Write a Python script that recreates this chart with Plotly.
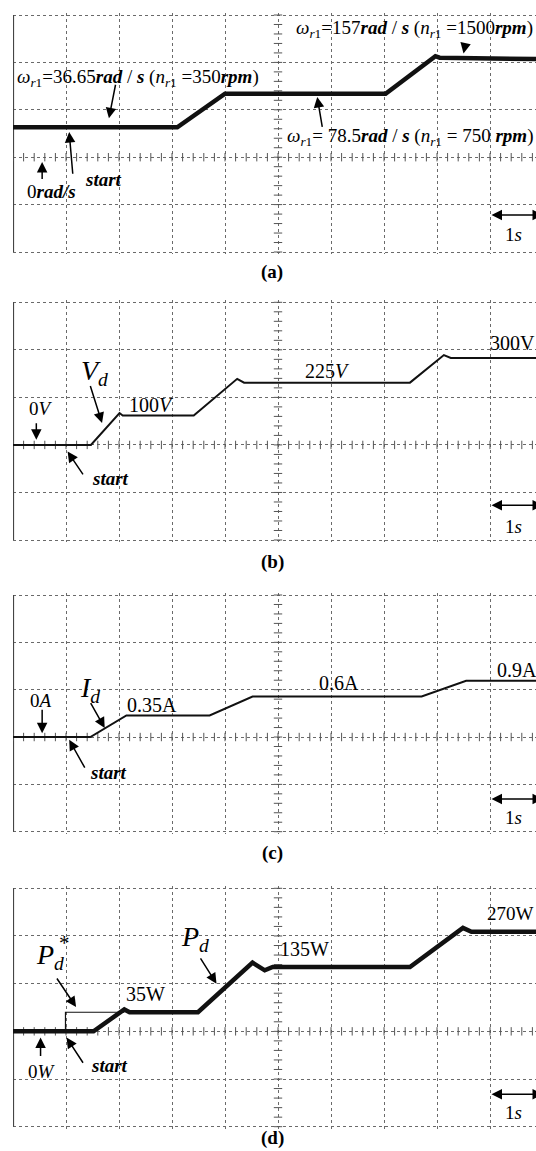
import numpy as np
import plotly.graph_objects as go

# ---------------- data (y in scope divisions, t in seconds) -------------
# (a) rotor speed omega_r1
speed_t = [0, 3.10, 4.00, 7.03, 7.97, 8.05, 9.87]
speed_div = [0.63, 0.63, 1.34, 1.34, 2.13, 2.10, 2.07]
# (b) DC voltage V_d
vd_t = [0, 1.47, 2.01, 2.07, 3.41, 4.23, 4.36, 7.49, 8.13, 8.26, 9.87]
vd_div = [0, 0, 0.67, 0.62, 0.62, 1.39, 1.31, 1.31, 1.89, 1.83, 1.83]
# (c) DC current I_d
id_t = [0, 1.46, 2.14, 3.71, 4.52, 7.71, 8.55, 9.87]
id_div = [0, 0, 0.455, 0.455, 0.856, 0.856, 1.19, 1.19]
# (d) power P_d and reference P_d*
pd_t = [0, 1.52, 2.10, 2.20, 3.49, 4.52, 4.75, 4.90, 7.49, 8.49, 8.65, 9.87]
pd_div = [0, 0, 0.46, 0.40, 0.40, 1.44, 1.28, 1.35, 1.35, 2.17, 2.09, 2.09]
pdref_t = [0, 0.99, 0.99, 2.10]
pdref_div = [0, 0, 0.40, 0.40]

time_ticks = list(range(0, 11))          # 1 s / div
div_ticks = [-2, -1, 0, 1, 2, 3]          # vertical divisions
captions = ["(a)", "(b)", "(c)", "(d)"]

# ---------------- layout geometry -----------------------------------------------------------
W, H = 536, 1151
ML = 13
PX_PER_S = 53.0
T_MAX = (W - ML) / PX_PER_S
panel_px = [(15, 252), (302.3, 540), (595, 831.7), (888.3, 1126.7)]
caption_py = [272, 562, 853, 1138]
PAD = 2.0  # px of padding so the edge grid lines are drawn
FONT = "Liberation Serif, Times New Roman, serif"
GRID = "#6a6a6a"

fig = go.Figure()
layout = dict(
    width=W, height=H, margin=dict(l=ML, r=0, t=0, b=0),
    paper_bgcolor="white", plot_bgcolor="white", showlegend=False,
    font=dict(family=FONT, size=19, color="black"),
)

for i, (top, bot) in enumerate(panel_px):
    n = "" if i == 0 else str(i + 1)
    px_per_div = (bot - top) / 5.0
    pad_div = PAD / px_per_div
    layout["xaxis" + n] = dict(
        domain=[0, 1], range=[0, T_MAX], anchor="y" + n,
        tickvals=time_ticks, showticklabels=False, ticks="",
        showgrid=True, gridcolor=GRID, gridwidth=1, griddash="dot",
        zeroline=False, showline=False, fixedrange=True,
    )
    layout["yaxis" + n] = dict(
        domain=[1 - (bot + PAD) / H, 1 - (top - PAD) / H],
        range=[-2 - pad_div, 3 + pad_div], anchor="x" + n,
        tickvals=div_ticks, showticklabels=False, ticks="",
        showgrid=True, gridcolor=GRID, gridwidth=1, griddash="dot",
        zeroline=False, showline=False, fixedrange=True,
    )
    xa, ya = "x" + n, "y" + n
    # solid left frame line (from bottom to top division)
    fig.add_trace(go.Scatter(x=[0, 0], y=[-2, 3], mode="lines", xaxis=xa, yaxis=ya,
                             line=dict(color="#444", width=2.2), hoverinfo="skip", cliponaxis=False))
    # centre-line minor tick marks
    tx = np.arange(0, T_MAX, 0.2)
    fig.add_trace(go.Scatter(
        x=tx, y=np.zeros(len(tx)), mode="markers", xaxis=xa, yaxis=ya, hoverinfo="skip",
        marker=dict(symbol="line-ns", size=6, line=dict(width=1, color="#555"))))
    yy = np.arange(-2, 3.001, 0.2)
    fig.add_trace(go.Scatter(
        x=np.full(len(yy), 5.0), y=yy, mode="markers", xaxis=xa, yaxis=ya, hoverinfo="skip",
        marker=dict(symbol="line-ew", size=6, line=dict(width=1, color="#555"))))

def line(t, v, ax, width):
    fig.add_trace(go.Scatter(x=t, y=v, mode="lines", xaxis="x" + ax, yaxis="y" + ax,
                             line=dict(color="#111", width=width), hoverinfo="skip"))

line(speed_t, speed_div, "", 4.5)
line(vd_t, vd_div, "2", 2)
line(id_t, id_div, "3", 2)
line(pdref_t, pdref_div, "4", 1.2)
line(pd_t, pd_div, "4", 4.5)

ann = []

def txt(ax, x, y, s, size=19, xanchor="center"):
    ann.append(dict(xref="x" + ax, yref="y" + ax, x=x, y=y, text=s, showarrow=False,
                    xanchor=xanchor, yanchor="middle", font=dict(size=size, family=FONT)))

def arrow(ax, x, y, tx, ty, side="end"):
    ann.append(dict(xref="x" + ax, yref="y" + ax, axref="x" + ax, ayref="y" + ax,
                    x=x, y=y, ax=tx, ay=ty, text="", showarrow=True, arrowhead=2,
                    arrowsize=1.4, arrowwidth=1.5, arrowcolor="black", arrowside=side,
                    standoff=0, startstandoff=0))

W_ = "<i>ω</i><sub><i>r</i>1</sub>"
N_ = "<i>n</i><sub><i>r</i>1</sub>"
START = "<b><i>start</i></b>"

# (a)
txt("", 5.30, 2.71, W_ + "=157<b><i>rad</i></b> / <b><i>s</i></b> (" + N_ + " =1500<b><i>rpm</i></b>)", 19, "left")
arrow("", 8.50, 2.19, 8.54, 2.41)
txt("", 0.03, 1.68, W_ + "=36.65<b><i>rad</i></b> / <b><i>s</i></b> (" + N_ + " =350<b><i>rpm</i></b>)", 19, "left")
arrow("", 1.81, 0.82, 1.94, 1.56)
txt("", 5.14, 0.43, W_ + "= 78.5<b><i>rad</i></b> / <b><i>s</i></b> (" + N_ + " = 750 <b><i>rpm</i></b>)", 19, "left")
arrow("", 5.74, 1.27, 5.84, 0.61)
txt("", 0.72, -0.73, "0<b><i>rad/s</i></b>", 19)
arrow("", 0.55, -0.10, 0.55, -0.49)
txt("", 1.32, -0.47, START, 19, "left")
arrow("", 1.06, 0.53, 1.13, -0.38)

# (b)
txt("2", 0.52, 0.77, "0<i>V</i>", 19)
arrow("2", 0.44, 0.11, 0.44, 0.49)
txt("2", 1.245, 1.52, "<i>V</i><sub><i>d</i></sub>", 28, "left")
arrow("2", 1.68, 0.46, 1.45, 1.27)
txt("2", 2.61, 0.84, "100<i>V</i>", 20)
txt("2", 5.94, 1.56, "225<i>V</i>", 20)
txt("2", 9.43, 2.15, "300V", 20)
txt("2", 1.45, -0.70, START, 19, "left")
arrow("2", 1.03, -0.14, 1.34, -0.65)

# (c)
txt("3", 0.52, 0.77, "0<i>A</i>", 19)
arrow("3", 0.55, 0.08, 0.55, 0.61)
txt("3", 1.22, 1.0, "<i>I</i><sub><i>d</i></sub>", 28, "left")
arrow("3", 1.73, 0.19, 1.45, 0.75)
txt("3", 2.63, 0.68, "0.35A", 20)
txt("3", 6.16, 1.15, "0.6A", 20)
txt("3", 9.10, 1.42, "0.9A", 20, "left")
txt("3", 1.41, -0.75, START, 19, "left")
arrow("3", 1.06, -0.06, 1.37, -0.68)

# (d)
txt("4", 0.39, 1.58, "<i>P</i><sub><i>d</i></sub>", 28, "left")
txt("4", 0.976, 1.85, "*", 21)
arrow("4", 1.19, 0.51, 0.81, 1.14)
txt("4", 3.13, 1.95, "<i>P</i><sub><i>d</i></sub>", 28, "left")
arrow("4", 3.84, 1.00, 3.52, 1.56)
txt("4", 2.50, 0.79, "35W", 20)
txt("4", 5.50, 1.72, "135W", 20)
txt("4", 9.38, 2.48, "270W", 19)
txt("4", 0.55, -0.85, "0<i>W</i>", 19)
arrow("4", 0.52, -0.13, 0.52, -0.55)
txt("4", 1.43, -0.71, START, 19, "left")
arrow("4", 1.01, -0.13, 1.34, -0.69)

# 1 s scale marks and captions
one_s_y = [(-1.22, -1.63), (-1.27, -1.72), (-1.31, -1.69), (-1.32, -1.71)]
for i, (ay_, ty_) in enumerate(one_s_y):
    n = "" if i == 0 else str(i + 1)
    arrow(n, 10.0, ay_, 9.0, ay_, side="end+start")
    txt(n, 9.45, ty_, "1<i>s</i>", 19)
    ann.append(dict(xref="paper", yref="paper", x=(272 - ML) / (W - ML), y=1 - caption_py[i] / H,
                    text="<b>" + captions[i] + "</b>", showarrow=False, xanchor="center",
                    yanchor="middle", font=dict(size=19, family=FONT)))

layout["annotations"] = ann
fig.update_layout(**layout)
fig.write_html("out.html", config={"displayModeBar": False},
               post_script="document.body.style.margin='0';document.body.style.overflow='hidden';")
